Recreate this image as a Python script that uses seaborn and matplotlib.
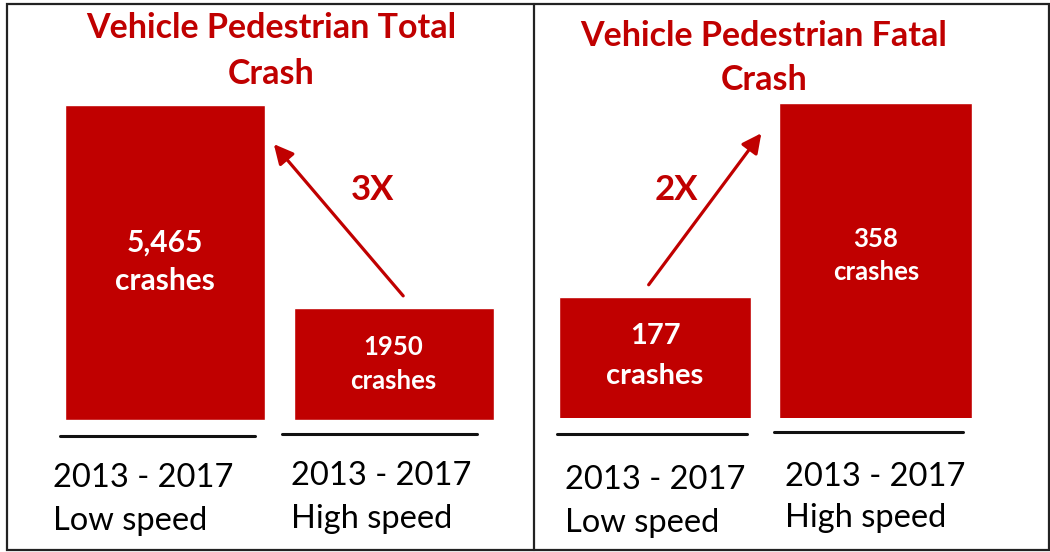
import matplotlib
matplotlib.use('Agg')
import matplotlib.pyplot as plt
import seaborn as sns
from matplotlib.lines import Line2D
from matplotlib.patches import Rectangle, FancyArrowPatch

# data
speed_cats = ['Low speed', 'High speed']
period = '2013 - 2017'
total_crashes = [5465, 1950]
fatal_crashes = [177, 358]
titles = ['Vehicle Pedestrian Total\nCrash', 'Vehicle Pedestrian Fatal\nCrash']
ratio_labels = ['3X', '2X']

red = '#C00000'
W, H = 1050, 552

sns.set_theme(style='white')
plt.rcParams['font.family'] = ['Lato', 'DejaVu Sans']

fig = plt.figure(figsize=(W / 100, H / 100), dpi=100)


def fx(x):
    return x / W


def fy(y):
    return 1 - y / H


def ptext(x, y, s, **kw):
    fig.text(fx(x), fy(y), s, **kw)


# left panel: total crashes
ax1 = fig.add_axes([fx(50.5), fy(420), 458 / W, 320 / H])
sns.barplot(x=speed_cats, y=total_crashes, color=red, saturation=1,
            width=0.873, ax=ax1)
ax1.set_xlim(-0.5, 1.5)
ax1.set_ylim(0, 5552)
ax1.axis('off')

# right panel: fatal crashes
ax2 = fig.add_axes([fx(544.75), fy(418), 441 / W, 318 / H])
sns.barplot(x=speed_cats, y=fatal_crashes, color=red, saturation=1,
            width=0.873, ax=ax2)
ax2.set_xlim(-0.5, 1.5)
ax2.set_ylim(64, 360.7)
ax2.axis('off')

# titles
ptext(271, 51, titles[0], ha='center', va='center', color=red,
      fontsize=24.5, fontweight='bold', linespacing=1.5)
ptext(764, 58, titles[1], ha='center', va='center', color=red,
      fontsize=24.5, fontweight='bold', linespacing=1.5)

# values inside the bars
ptext(165, 243, f'{total_crashes[0]:,}', ha='center', va='center',
      color='white', fontsize=21.5, fontweight='bold')
ptext(165, 281, 'crashes', ha='center', va='center',
      color='white', fontsize=21.5, fontweight='bold')
ptext(393, 347, f'{total_crashes[1]}', ha='center', va='center',
      color='white', fontsize=18.5, fontweight='bold')
ptext(393, 381, 'crashes', ha='center', va='center',
      color='white', fontsize=18.5, fontweight='bold')
ptext(655, 336, f'{fatal_crashes[0]}', ha='center', va='center',
      color='white', fontsize=21, fontweight='bold')
ptext(655, 376, 'crashes', ha='center', va='center',
      color='white', fontsize=21, fontweight='bold')
ptext(876, 239, f'{fatal_crashes[1]}', ha='center', va='center',
      color='white', fontsize=18.5, fontweight='bold')
ptext(876, 272, 'crashes', ha='center', va='center',
      color='white', fontsize=18.5, fontweight='bold')

# arrows + ratio labels
for (x0, y0, x1, y1) in [(405, 298, 272, 142), (647, 287, 763, 131)]:
    fig.add_artist(FancyArrowPatch(
        (fx(x0), fy(y0)), (fx(x1), fy(y1)), transform=fig.transFigure,
        arrowstyle='-|>,head_length=0.9,head_width=0.45', mutation_scale=13,
        color=red, lw=2.3))
ptext(372, 190, ratio_labels[0], ha='center', va='center', color=red,
      fontsize=25, fontweight='bold')
ptext(676, 190, ratio_labels[1], ha='center', va='center', color=red,
      fontsize=25, fontweight='bold')

# underlines
for (x0, x1, y) in [(60, 255, 436), (282, 477, 434), (557, 747, 434), (774, 963, 432)]:
    fig.add_artist(Line2D([fx(x0), fx(x1)], [fy(y), fy(y)], color='#111111', lw=2.2))

# category labels
for (x, yb1, yb2, cat) in [(53, 487, 530, speed_cats[0]), (291, 485, 528, speed_cats[1]),
                           (565, 489, 532, speed_cats[0]), (785, 486, 527, speed_cats[1])]:
    ptext(x, yb1, period, ha='left', va='baseline', color='black', fontsize=23.5)
    ptext(x, yb2, cat, ha='left', va='baseline', color='black', fontsize=23.5)

# frame and divider
fig.add_artist(Rectangle((fx(7), fy(550)), (1049 - 7) / W, (550 - 4) / H,
                         transform=fig.transFigure, fill=False, ec='#222222', lw=1.6))
fig.add_artist(Line2D([fx(534), fx(534)], [fy(4), fy(550)], color='#222222', lw=1.6))

fig.savefig('out.png', dpi=100)
